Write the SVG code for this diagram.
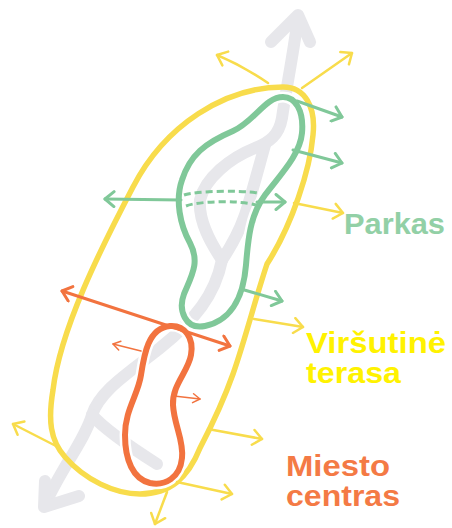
<svg xmlns="http://www.w3.org/2000/svg" width="452" height="528" viewBox="0 0 452 528">
<style>
.road{fill:none;stroke:#e7e7eb;stroke-width:12;stroke-linecap:round;stroke-linejoin:round}
.halo{fill:none;stroke:#ffffff;stroke-width:11}
.y{fill:none;stroke:#f8dc4c;stroke-linecap:round}
.g{fill:none;stroke:#80c899;stroke-linecap:round}
.o{fill:none;stroke:#f2733f;stroke-linecap:round}
.lbl{font-family:"Liberation Sans",Arial,sans-serif;font-weight:bold;font-size:30px}
</style>
<defs>
<marker id="aY" viewBox="-12 -9 14 18" refX="0" refY="0" markerWidth="14" markerHeight="18" markerUnits="userSpaceOnUse" orient="auto-start-reverse"><path d="M-9,-7.5 L0,0 L-9,7.5" fill="none" stroke="#f8dc4c" stroke-width="2.5" stroke-linecap="round" stroke-linejoin="round"/></marker>
<marker id="aG" viewBox="-12 -9 14 18" refX="0" refY="0" markerWidth="14" markerHeight="18" markerUnits="userSpaceOnUse" orient="auto-start-reverse"><path d="M-9,-7.5 L0,0 L-9,7.5" fill="none" stroke="#80c899" stroke-width="3" stroke-linecap="round" stroke-linejoin="round"/></marker>
<marker id="aO" viewBox="-12 -9 14 18" refX="0" refY="0" markerWidth="14" markerHeight="18" markerUnits="userSpaceOnUse" orient="auto-start-reverse"><path d="M-9,-7.5 L0,0 L-9,7.5" fill="none" stroke="#f2733f" stroke-width="3" stroke-linecap="round" stroke-linejoin="round"/></marker>
<marker id="aOs" viewBox="-9 -6 10 12" refX="0" refY="0" markerWidth="10" markerHeight="12" markerUnits="userSpaceOnUse" orient="auto-start-reverse"><path d="M-7,-4.5 L0,0 L-7,4.5" fill="none" stroke="#f2733f" stroke-width="1.5" stroke-linecap="round" stroke-linejoin="round"/></marker>
</defs>
<rect width="452" height="528" fill="#ffffff"/>
<g id="road">
<path class="road" d="M298,17 C294,50 286,90 282,118 C279,135 270,142 255,148 C230,158 205,178 200,200 C198,222 212,245 222,260"/>
<path class="road" d="M265,145 C258,170 250,200 245,215 C238,235 230,248 222,260"/>
<path class="road" d="M222,260 C215,295 195,320 160,348 C130,372 100,390 92,415 C85,440 60,470 45,505"/>
<path class="road" d="M92,415 C105,430 135,450 157,464"/>
<path class="road" d="M271,42 L298,15 L310,42"/>
<path class="road" d="M45,481 L44,507 L79,496"/>
</g>
<g id="zone-terasa">
<path fill="none" stroke="#f8dc4c" stroke-width="5.5" d="M283,87 C305,87 316,107 313,135 C310,170 292,225 267,264 C255,300 245,340 233,374 C222,405 212,425 200,448 C188,478 170,494 140,494 C115,494 85,480 65,457 C50,440 48,420 53,390 C60,330 100,250 133,187 C165,125 225,87 283,87 Z"/>
<text class="lbl" x="306" y="353" fill="#fff200" textLength="140" lengthAdjust="spacingAndGlyphs">Viršutinė</text>
<text class="lbl" x="306" y="383" fill="#fff200" textLength="95" lengthAdjust="spacingAndGlyphs">terasa</text>
</g>
<g id="zone-parkas">
<path class="halo" d="M283,97 C295,97 304,110 302,133 C300,155 280,175 265,195 C250,215 248,240 246,265 C244,290 235,320 205,326 C185,330 178,310 184,294 C192,275 200,262 190,243 C180,225 175,200 182,180 C190,155 205,143 233,131 C255,121 265,97 283,97 Z"/>
<path fill="none" stroke="#80c899" stroke-width="6" d="M283,97 C295,97 304,110 302,133 C300,155 280,175 265,195 C250,215 248,240 246,265 C244,290 235,320 205,326 C185,330 178,310 184,294 C192,275 200,262 190,243 C180,225 175,200 182,180 C190,155 205,143 233,131 C255,121 265,97 283,97 Z"/>
<path fill="none" stroke="#80c899" stroke-width="3" stroke-dasharray="7 4" d="M184,195 C195,191 240,190 258,193"/>
<path fill="none" stroke="#80c899" stroke-width="3" stroke-dasharray="7 4" d="M186,206 C198,201 240,200 256,205"/>
<text class="lbl" x="344" y="234" fill="#92d0a6" textLength="101" lengthAdjust="spacingAndGlyphs">Parkas</text>
</g>
<g id="zone-centras">
<path class="halo" d="M170,326 C185,325 194,338 191,355 C188,372 172,385 173,405 C174,425 184,440 182,458 C180,478 165,486 150,483 C133,479 125,460 125,435 C125,410 138,395 141,375 C144,355 148,328 170,326 Z"/>
<path fill="none" stroke="#f2733f" stroke-width="6" d="M170,326 C185,325 194,338 191,355 C188,372 172,385 173,405 C174,425 184,440 182,458 C180,478 165,486 150,483 C133,479 125,460 125,435 C125,410 138,395 141,375 C144,355 148,328 170,326 Z"/>
<text class="lbl" x="286" y="476" font-size="29" fill="#f47a45" textLength="104" lengthAdjust="spacingAndGlyphs">Miesto</text>
<text class="lbl" x="286" y="506" font-size="29" fill="#f47a45" textLength="114" lengthAdjust="spacingAndGlyphs">centras</text>
</g>
<g id="connectors">
<path class="y" stroke-width="2.5" marker-end="url(#aY)" d="M268,83 Q243,66 217,55"/>
<path class="y" stroke-width="2.5" marker-end="url(#aY)" d="M302,88 L352,53"/>
<path class="y" stroke-width="2.5" marker-end="url(#aY)" d="M294,203 L343,213"/>
<path class="y" stroke-width="2.5" marker-end="url(#aY)" d="M254,319 L303,327"/>
<path class="y" stroke-width="2.5" marker-end="url(#aY)" d="M208,429 L262,439"/>
<path class="y" stroke-width="2.5" marker-end="url(#aY)" d="M177,482 L232,494"/>
<path class="y" stroke-width="2.5" marker-end="url(#aY)" d="M167,492 L155,524"/>
<path class="y" stroke-width="2.5" marker-end="url(#aY)" d="M56,446 L13,424"/>
<path class="g" stroke-width="3" marker-end="url(#aG)" d="M297,101 L342,117"/>
<path class="g" stroke-width="3" marker-end="url(#aG)" d="M293,150 L342,163"/>
<path class="g" stroke-width="3" marker-start="url(#aG)" d="M105,199 L181,200"/>
<path class="g" stroke-width="3" marker-end="url(#aG)" d="M257,202 L285,202"/>
<path class="g" stroke-width="3" marker-end="url(#aG)" d="M241,289 L282,301"/>
<path class="o" stroke-width="3" marker-start="url(#aO)" marker-end="url(#aO)" d="M62,291 L230,346"/>
<path class="o" stroke-width="1.5" marker-end="url(#aOs)" d="M141,351 L113,344"/>
<path class="o" stroke-width="1.5" marker-end="url(#aOs)" d="M174,396 L200,399"/>
</g>
</svg>
